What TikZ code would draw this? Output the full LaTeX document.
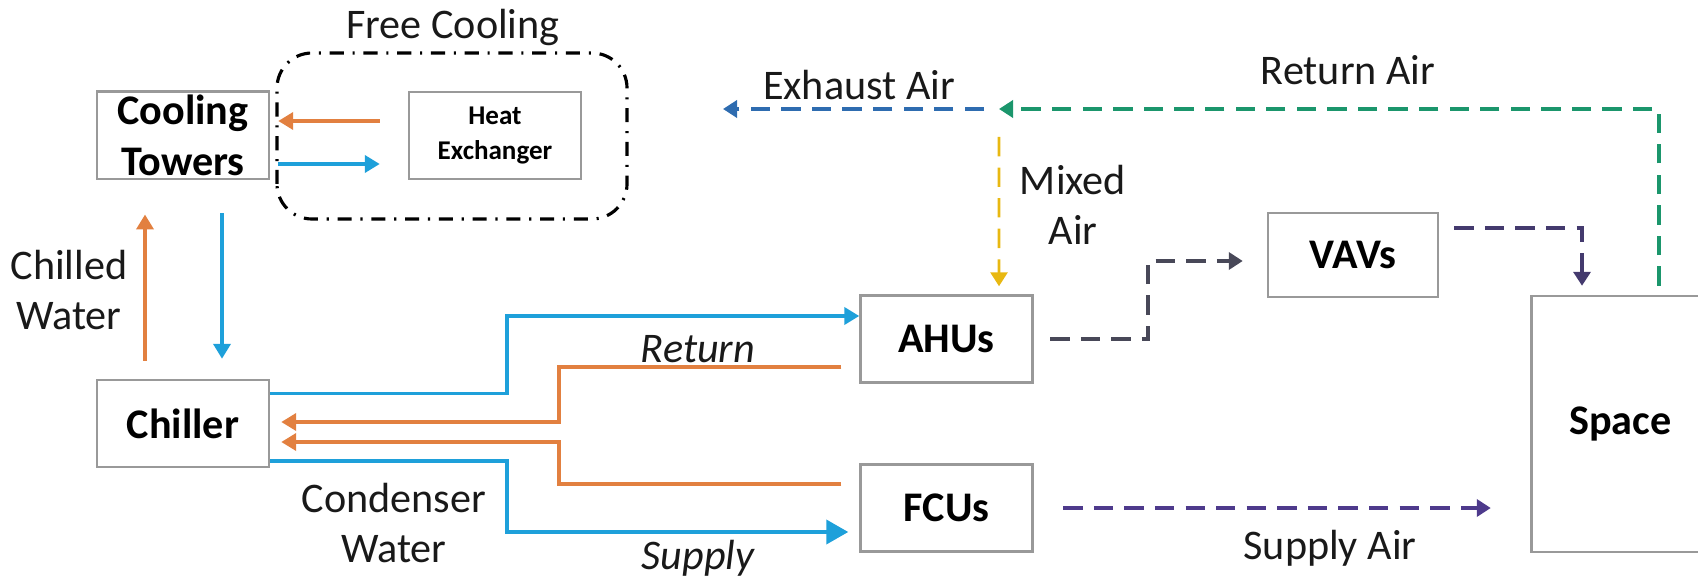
\documentclass[tikz,border=0pt]{standalone}
\usepackage{fontspec}
\setmainfont{Carlito}
\usetikzlibrary{arrows.meta}

\definecolor{cwblue}{RGB}{30,160,218}
\definecolor{hotorange}{RGB}{226,128,64}
\definecolor{airgreen}{RGB}{27,150,108}
\definecolor{exhblue}{RGB}{46,108,176}
\definecolor{mixyellow}{RGB}{232,184,18}
\definecolor{ductgray}{RGB}{72,72,88}
\definecolor{vavpurple}{RGB}{68,58,110}
\definecolor{supplypurple}{RGB}{78,58,140}

\begin{document}
\begin{tikzpicture}[
    box/.style={draw=gray!80, line width=0.7pt, fill=white, font=\fontsize{12}{14.4}\selectfont\bfseries, align=center, minimum width=1.72cm, minimum height=0.87cm, inner sep=1pt},
    cw/.style={cwblue, line width=1.1pt, -{Triangle[length=1.5mm, width=1.7mm]}},
    hw/.style={hotorange, line width=1.1pt, -{Triangle[length=1.5mm, width=1.7mm]}},
    air/.style={line width=1.1pt, dash pattern=on 5.5pt off 3.2pt, -{Triangle[length=1.4mm, width=1.7mm]}},
    label/.style={font=\fontsize{12}{14.4}\selectfont, align=center, text=black!90}
]
\useasboundingbox (0,0) rectangle (16.98,5.80);

% Plant side
\node[box] (ct) at (1.83,4.445) {Cooling\\Towers};
\node[box, font=\fontsize{7.7}{9.9}\selectfont\bfseries] (hx) at (4.95,4.445) {Heat\\Exchanger};
\node[box] (ch) at (1.83,1.565) {Chiller};

\draw[line width=0.9pt, rounded corners=0.35cm, dash pattern=on 4pt off 2.5pt on 0.6pt off 2.5pt] (2.77,3.61) rectangle (6.27,5.27);
\node[label] (fclbl) at (4.53,5.53) {Free Cooling};

\draw[hw] ([shift={(-0.28,0.145)}]hx.west) -- ([shift={(0.08,0.145)}]ct.east);
\draw[cw] ([shift={(0.08,-0.285)}]ct.east) -- ([shift={(-0.28,-0.285)}]hx.west);

\draw[hw] ([shift={(-0.38,0.18)}]ch.north) -- ([shift={(-0.38,-0.34)}]ct.south);
\draw[cw] ([shift={(0.39,-0.33)}]ct.south) -- ([shift={(0.39,0.20)}]ch.north);
\node[label] (chwlbl) at (0.69,2.90) {Chilled\\Water};

% Terminal units
\node[box] (ahu) at (9.465,2.41) {AHUs};
\node[box] (fcu) at (9.465,0.72) {FCUs};
\node[box, minimum height=0.84cm, minimum width=1.70cm] (vav) at (13.53,3.25) {VAVs};
\node[box, minimum width=1.78cm, minimum height=2.56cm] (sp) at (16.205,1.56) {Space};

% Water loops
\draw[cw] ([yshift=0.30cm]ch.east) -- ++(2.37,0) |- ([yshift=0.23cm]ahu.west);
\draw[hw] ([shift={(-0.18,-0.28)}]ahu.west) -- ++(-2.82,0) |- ([shift={(0.11,0.015)}]ch.east);
\draw[hw] ([shift={(-0.18,0.24)}]fcu.west) -- ++(-2.82,0) |- ([shift={(0.11,-0.185)}]ch.east);
\draw[cw, -{Triangle[length=2.2mm, width=2.4mm]}] ([yshift=-0.375cm]ch.east) -- ++(2.37,0) |- ([shift={(-0.11,-0.24)}]fcu.west);

\node[label, font=\fontsize{12}{14.4}\selectfont\itshape] (retlbl) at (6.98,2.31) {Return};
\node[label, font=\fontsize{12}{14.4}\selectfont\itshape] (suplbl) at (6.98,0.22) {Supply};
\node[label] (cdwlbl) at (3.94,0.57) {Condenser\\Water};

% Air side
\coordinate (jn) at (9.99,4.71);
\coordinate (ex) at (7.23,4.71);
\draw[air, airgreen] ([shift={(0.385,0.09)}]sp.north) |- (jn);
\draw[air, exhblue] ([xshift=-0.15cm]jn) -- (ex);
\draw[air, mixyellow, line width=0.8pt] ([yshift=-0.28cm]jn) -- ([shift={(0.525,0.08)}]ahu.north);
\draw[air, ductgray] ([xshift=0.165cm]ahu.east) -- ++(0.98,0) |- ([shift={(-0.24,-0.06)}]vav.west);
\draw[air, vavpurple] ([shift={(0.15,0.27)}]vav.east) -| ([shift={(-0.385,0.09)}]sp.north);
\draw[air, supplypurple] ([xshift=0.295cm]fcu.east) -- ([xshift=-0.395cm]fcu.east -| sp.west);

\node[label] (exlbl) at (8.59,4.95) {Exhaust Air};
\node[label] (ralbl) at (13.48,5.10) {Return Air};
\node[label] (malbl) at (10.73,3.75) {Mixed\\Air};
\node[label] (salbl) at (13.30,0.32) {Supply Air};

\end{tikzpicture}
\end{document}
